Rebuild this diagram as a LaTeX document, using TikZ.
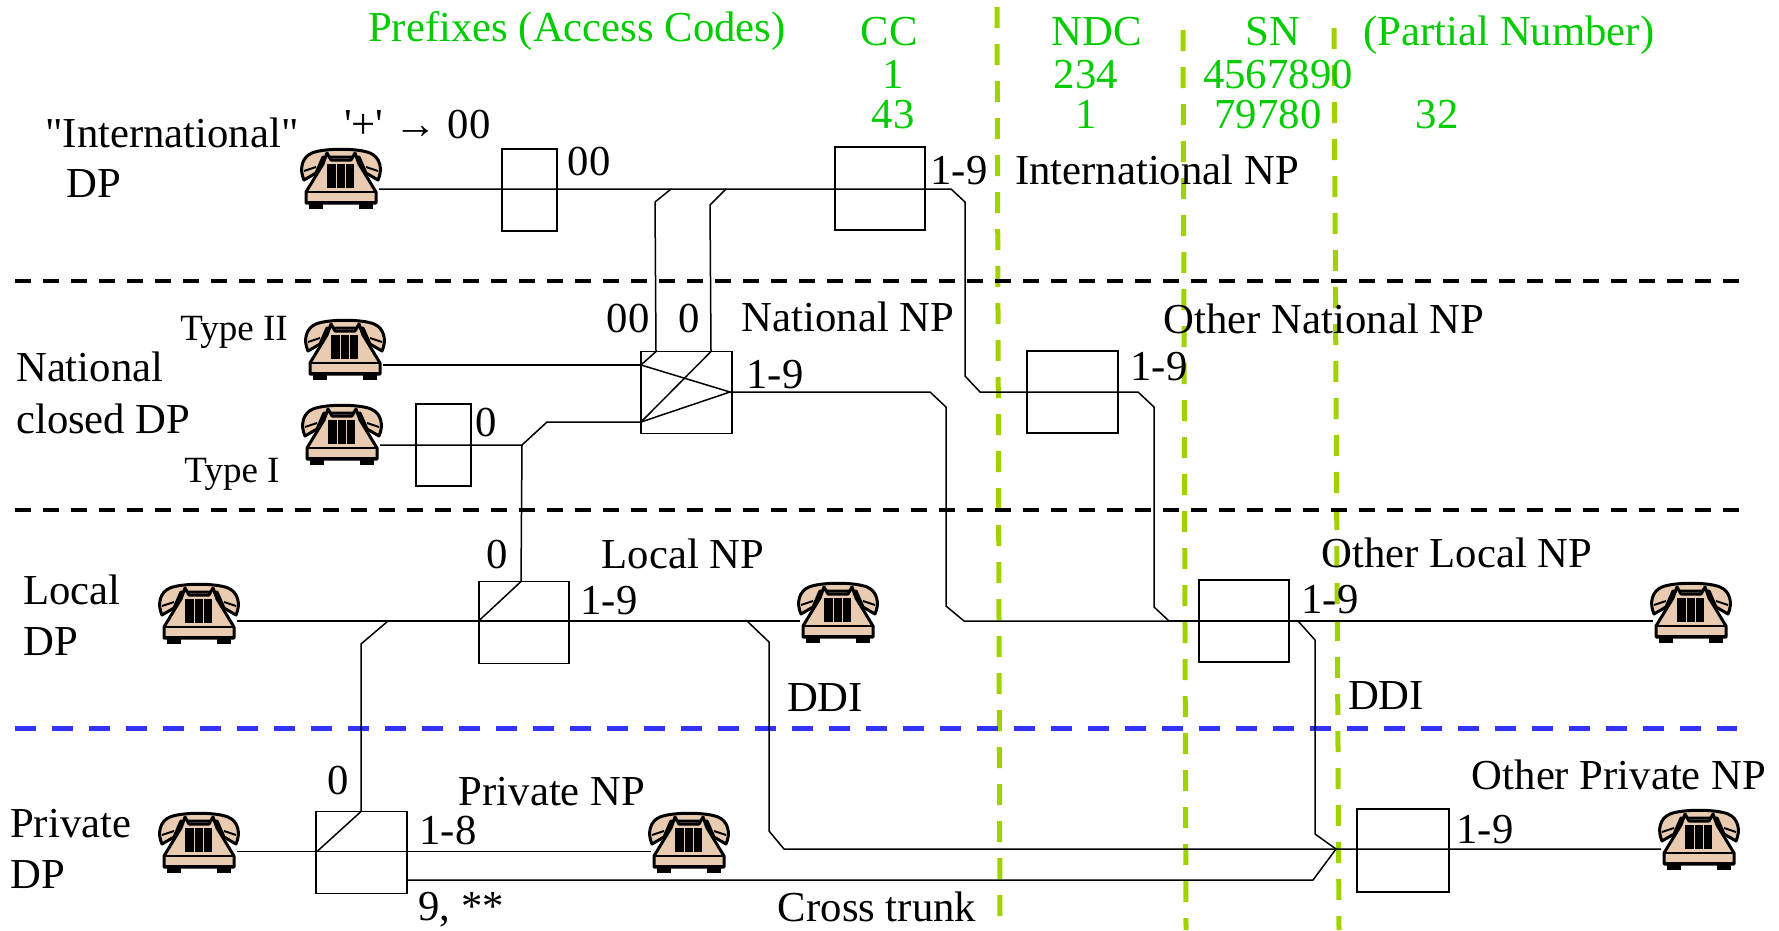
\documentclass[tikz,border=0pt]{standalone}
\usepackage{fontspec}
\setmainfont{Liberation Serif}
\definecolor{codegreen}{RGB}{0,204,0}
\definecolor{limeline}{RGB}{160,210,0}
\definecolor{planblue}{RGB}{51,51,255}
\definecolor{teltan}{RGB}{232,203,176}

\tikzset{
 lab/.style={anchor=base, inner sep=0pt, font=\fontsize{42.7}{48}\selectfont},
 labl/.style={lab, anchor=base west},
 small/.style={anchor=base, inner sep=0pt, font=\fontsize{37}{42}\selectfont},
 code/.style={lab, text=codegreen},
 numbox/.style={draw, line width=1.6pt, inner sep=0pt},
 wire/.style={line width=1.5pt, line join=round},
 rowline/.style={line width=4pt, dash pattern=on 16pt off 12pt},
 bluerow/.style={line width=5pt, planblue, dash pattern=on 21pt off 16pt},
 splitline/.style={line width=5pt, limeline, dash pattern=on 21pt off 16pt},
 telnode/.style={inner sep=0pt, minimum width=76pt, minimum height=10pt},
 telbody/.style={fill=teltan, draw=black, line width=3pt, line join=round}
}

% name, centre x, centre y, y of the line
\newcommand{\telephone}[4]{
\node[telnode] (#1) at (#2,#4) {};
\begin{scope}[shift={(#2,#3)}]
\draw[telbody] (-37,1) .. controls (-42,-10) and (-39,-22) .. (-29,-26)
 .. controls (-17,-31) and (17,-31) .. (29,-26)
 .. controls (39,-22) and (42,-10) .. (37,1) -- (25,-6) -- (18,-22) -- (-18,-22) -- (-25,-6) -- cycle;
\draw[line width=2pt] (-37,-8) -- (-25,-12) (37,-8) -- (25,-12);
\draw[telbody] (-18,-15) -- (-14,-26) -- (-10,-19) -- (10,-19) -- (14,-26) -- (18,-15)
 -- (35,13) -- (35,24) -- (-35,24) -- (-35,13) -- cycle;
\draw[line width=1.5pt] (-35,13) -- (35,13);
\fill (-14,-15) rectangle (13,9);
\draw[teltan, line width=0.8pt] (-5,-15) -- (-5,9) (4,-15) -- (4,9);
\fill (-35,22) rectangle (35,25);
\fill (-32,24) rectangle (-18,30);
\fill (18,24) rectangle (32,30);
\end{scope}
}

\begin{document}
\begin{tikzpicture}[x=1pt, y=-1pt]
\useasboundingbox (0,0) rectangle (1779,930);

%%%%%%%%%%%%%%%%%%%%%%%%%%%%%%%
\draw[splitline] (997,7) -- (1000,930);
\draw[splitline] (1183,30) -- (1186,930);
\draw[splitline] (1334,28) -- (1339,930);

\draw[rowline] (15,281) -- (1741,281);
\draw[rowline] (15,510) -- (1741,510);
\draw[bluerow] (15,728.5) -- (1737,728.5);

%%%%%%%%%%%%%%%%%%%%%%%%%%%%%%%
\telephone{telIntl}{341}{179}{189}
\telephone{telTwo}{345}{350}{365}
\telephone{telOne}{342}{435}{445}
\telephone{telLocal}{199}{614}{621}
\telephone{telLocalB}{838}{613}{621}
\telephone{telOtherL}{1691}{613}{621}
\telephone{telPriv}{199}{843}{851.5}
\telephone{telPrivB}{689}{843}{851.5}
\telephone{telOtherP}{1699}{840}{849}

\node[numbox, minimum width=55pt, minimum height=82pt] (boxZero) at (529.5,190) {};
\node[numbox, minimum width=90pt, minimum height=83pt] (boxCC) at (880,188.5) {};
\node[numbox, minimum width=91pt, minimum height=82pt] (boxNat) at (686.5,392.5) {};
\node[numbox, minimum width=91pt, minimum height=82pt] (boxOtherNat) at (1072.5,392) {};
\node[numbox, minimum width=55pt, minimum height=82pt] (boxTypeI) at (443.5,445) {};
\node[numbox, minimum width=90pt, minimum height=82pt] (boxLocal) at (524,622.5) {};
\node[numbox, minimum width=90pt, minimum height=82pt] (boxOtherLoc) at (1244,621) {};
\node[numbox, minimum width=91pt, minimum height=82pt] (boxPriv) at (361.5,852.5) {};
\node[numbox, minimum width=92pt, minimum height=83pt] (boxOtherPriv) at (1403,850.5) {};

%%%%%%%%%%%%%%%%%%%%%%%%%%%%%%%
\coordinate (natIn) at (641,365);
\coordinate (natLow) at (641,422);
\coordinate (natOut) at (730,392);
\coordinate (natTopA) at (656,351.5);
\coordinate (natTopB) at (711,351.5);
\coordinate (intlEnd) at (951,189);
\coordinate (typeJoin) at (522,445);
\coordinate (locTop) at (521,581.5);
\coordinate (locIn) at (478.6,621);
\coordinate (privTop) at (361,811.5);
\coordinate (privIn) at (317,851.5);
\coordinate (mergeR) at (1336,849);
\coordinate (otherJoin) at (1169,621);

\draw[wire] (telIntl.east) -- (intlEnd) -- (965,202) -- (965,376) -- (980,392)
 -- (1138,392) -- (1154,407) -- (1154,607) -- (otherJoin);
\draw[wire] (671,189) -- (655,202) -- (natTopA) -- (natIn);
\draw[wire] (726,189) -- (710,205) -- (natTopB) -- (natLow);
\draw[wire] (natIn) -- (natOut) -- (natLow);
\draw[wire] (telTwo.east) -- (natIn);
\draw[wire] (telOne.east) -- (typeJoin) -- (547,422) -- (natLow);
\draw[wire] (typeJoin) -- (locTop) -- (locIn);
\draw[wire] (natOut) -- (930,392) -- (946,407) -- (946,606) -- (964,621) -- (otherJoin);
\draw[wire] (otherJoin) -- (telOtherL.west);
\draw[wire] (telLocal.east) -- (telLocalB.west);
\draw[wire] (388,621) -- (361,644) -- (privTop) -- (privIn);
\draw[wire] (telPriv.east) -- (telPrivB.west);
\draw[wire] (746,620) -- (769,642) -- (769,831) -- (784,849) -- (mergeR) -- (telOtherP.west);
\draw[wire] (boxPriv.east |- 0,880) -- (1313,880) -- (mergeR);
\draw[wire] (1298,621) -- (1315,640) -- (1315,834) -- (mergeR);

%%%%%%%%%%%%%%%%%%%%%%%%%%%%%%%
\node[labl, text=codegreen] (tPrefix) at (368,41) {Prefixes (Access Codes)};
\node[code] (tCC) at (889,45) {CC};
\node[code] (tCCa) at (893,88) {1};
\node[code] (tCCb) at (893,128) {43};
\node[code] (tNDC) at (1097,45) {NDC};
\node[code] (tNDCa) at (1086,88) {234};
\node[code] (tNDCb) at (1086,128) {1};
\node[code] (tSN) at (1273,45) {SN};
\node[code] (tSNa) at (1278,88) {4567890};
\node[code] (tSNb) at (1268,128) {79780};
\node[code] (tPart) at (1509,45) {(Partial Number)};
\node[code] (tPartb) at (1437,128) {32};

\node[lab] (tIntl) at (172,147) {\textquotedbl International\textquotedbl};
\node[lab] (tIntlDP) at (94,197) {DP};
\node[labl] (tPlus) at (344,138) {\textquotesingle+\textquotesingle{} → 00};
\node[lab] (tZero) at (589,175) {00};
\node[lab] (tCCnine) at (959,184) {1-9};
\node[lab] (tIntlNP) at (1157,184.5) {International NP};

\node[small] (tTypeII) at (234,340) {Type II};
\node[small] (tTypeI) at (232,482) {Type I};
\node[labl] (tNat) at (16,381) {National};
\node[labl] (tNatDP) at (16,433) {closed DP};
\node[lab] (tNatA) at (628,332) {00};
\node[lab] (tNatB) at (689,332) {0};
\node[lab] (tNatNP) at (848,331) {National NP};
\node[lab] (tNatNine) at (775,388) {1-9};
\node[lab] (tOtherNine) at (1159,380) {1-9};
\node[lab] (tOtherNat) at (1324,333) {Other National NP};
\node[lab] (tOneZero) at (486,436) {0};

\node[labl] (tLocal) at (23,604) {Local};
\node[labl] (tLocalDP) at (23,655) {DP};
\node[lab] (tLocZero) at (497,568) {0};
\node[lab] (tLocNP) at (683,568) {Local NP};
\node[lab] (tLocNine) at (609,614) {1-9};
\node[lab] (tDDIa) at (825,711) {DDI};
\node[lab] (tOtherLoc) at (1457,567) {Other Local NP};
\node[lab] (tOLocNine) at (1330,613) {1-9};
\node[lab] (tDDIb) at (1386,709) {DDI};

\node[labl] (tPriv) at (10,837) {Private};
\node[labl] (tPrivDP) at (10,888) {DP};
\node[lab] (tPrivZero) at (338,794) {0};
\node[lab] (tPrivNP) at (552,805) {Private NP};
\node[lab] (tPrivEight) at (448,844) {1-8};
\node[lab] (tNineStar) at (461,920) {9, **};
\node[lab] (tCross) at (877,921) {Cross trunk};
\node[lab] (tOPrivNine) at (1485,843) {1-9};
\node[lab] (tOtherPriv) at (1619,789) {Other Private NP};
\end{tikzpicture}
\end{document}
